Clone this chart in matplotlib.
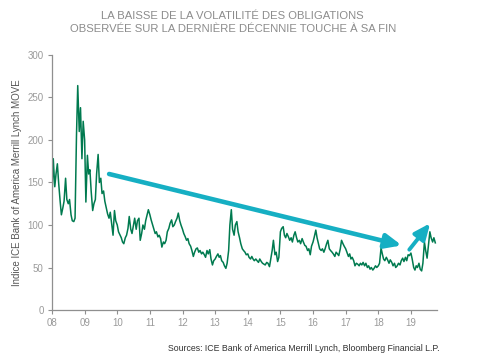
import numpy as np
import pandas as pd
import matplotlib
matplotlib.use("Agg")
import matplotlib.pyplot as plt

# Indice MOVE, valeurs bimensuelles (2008 -> oct. 2019)
move_2008 = [132, 178, 145, 160, 172, 150, 128, 112, 120, 128, 155, 130,
             125, 130, 112, 105, 104, 108, 205, 264, 210, 238, 178, 222]
move_2009 = [200, 127, 182, 160, 165, 140, 117, 125, 130, 160, 183, 150,
             155, 137, 140, 128, 120, 113, 108, 115, 100, 88, 117, 105]
move_2010 = [100, 92, 88, 85, 80, 78, 85, 88, 96, 110, 95, 90,
             100, 108, 95, 105, 108, 82, 90, 100, 95, 105, 112, 118]
move_2011 = [112, 106, 100, 95, 90, 92, 86, 88, 84, 74, 80, 78,
             82, 92, 96, 102, 106, 98, 100, 104, 108, 114, 105, 100]
move_2012 = [95, 90, 86, 82, 84, 78, 75, 70, 63, 68, 72, 73,
             68, 70, 66, 68, 65, 62, 70, 66, 71, 60, 53, 58]
move_2013 = [60, 63, 66, 62, 64, 58, 56, 52, 49, 55, 70, 100,
             118, 95, 88, 100, 104, 92, 85, 78, 72, 70, 68, 65]
move_2014 = [66, 62, 60, 63, 60, 58, 60, 58, 56, 60, 57, 55,
             54, 53, 56, 55, 51, 60, 70, 82, 65, 68, 57, 62]
move_2015 = [92, 96, 98, 88, 85, 90, 86, 82, 85, 80, 88, 92,
             85, 80, 82, 78, 84, 80, 76, 75, 70, 72, 65, 75]
move_2016 = [80, 86, 94, 85, 78, 72, 70, 72, 68, 72, 78, 82,
             72, 70, 68, 66, 63, 68, 66, 64, 72, 82, 78, 75]
move_2017 = [72, 68, 63, 66, 60, 62, 58, 52, 55, 54, 52, 55,
             53, 56, 52, 55, 50, 52, 48, 50, 47, 49, 52, 50]
move_2018 = [52, 55, 73, 66, 60, 58, 62, 59, 55, 59, 56, 52,
             55, 50, 52, 55, 53, 58, 61, 57, 62, 58, 65, 64]
move_2019 = [67, 60, 50, 47, 52, 50, 55, 48, 46, 55, 80, 70,
             61, 75, 92, 85, 80, 85, 79]

values = (move_2008 + move_2009 + move_2010 + move_2011 + move_2012 + move_2013
          + move_2014 + move_2015 + move_2016 + move_2017 + move_2018 + move_2019)
dates = pd.date_range("2008-01-01", periods=len(values), freq="SMS")
years = dates.year + (dates.dayofyear - 1) / 365.25

x_ticks = list(range(2008, 2020))
x_labels = ["08", "09", "10", "11", "12", "13", "14", "15", "16", "17", "18", "19"]
y_ticks = [0, 50, 100, 150, 200, 250, 300]

# flèches de tendance (début, pointe) en coordonnées des données
trend_down = ((2009.75, 160), (2018.72, 76))
trend_up = ((2018.95, 71), (2019.59, 102))

c_line = "#007a4f"
c_arrow = "#16afc3"
c_grey = "#8f8f8f"

plt.rcParams["font.family"] = ["Liberation Sans", "DejaVu Sans"]

fig = plt.figure(figsize=(4.78, 3.63), dpi=100)
ax = fig.add_axes([0.1088, 0.146, 0.8048, 0.7025])

ax.plot(years, values, color=c_line, linewidth=1.1)

for (start, tip), lw in ((trend_down, 3.3), (trend_up, 2.8)):
    ax.annotate("", xy=tip, xytext=start,
                arrowprops=dict(arrowstyle="-|>,head_length=0.8,head_width=0.35",
                                color=c_arrow, lw=lw, shrinkA=0, shrinkB=0,
                                mutation_scale=12))

ax.set_xlim(2008, 2019.79)
ax.set_ylim(0, 300)
ax.set_xticks(x_ticks)
ax.set_xticklabels(x_labels)
ax.set_yticks(y_ticks)

for side in ("top", "right"):
    ax.spines[side].set_visible(False)
for side in ("left", "bottom"):
    ax.spines[side].set_color(c_grey)
    ax.spines[side].set_linewidth(0.9)
ax.tick_params(axis="both", colors=c_grey, labelcolor="#9a9a9a", labelsize=7,
               length=3, width=0.8, direction="out", pad=3)

ax.set_ylabel("Indice ICE Bank of America Merrill Lynch MOVE", fontsize=7,
              color="#555555", labelpad=4)

title_font = dict(ha="center", va="center", fontsize=8.1, color="#8c8c8c")
fig.text(0.487, 0.957, "LA BAISSE DE LA VOLATILITÉ DES OBLIGATIONS", **title_font)
fig.text(0.487, 0.921, "OBSERVÉE SUR LA DERNIÈRE DÉCENNIE TOUCHE À SA FIN", **title_font)

fig.text(0.92, 0.04, "Sources: ICE Bank of America Merrill Lynch, Bloomberg Financial L.P.",
         ha="right", va="center", fontsize=6.3, color="#333333")

fig.savefig("out.png", dpi=100, facecolor="white")
